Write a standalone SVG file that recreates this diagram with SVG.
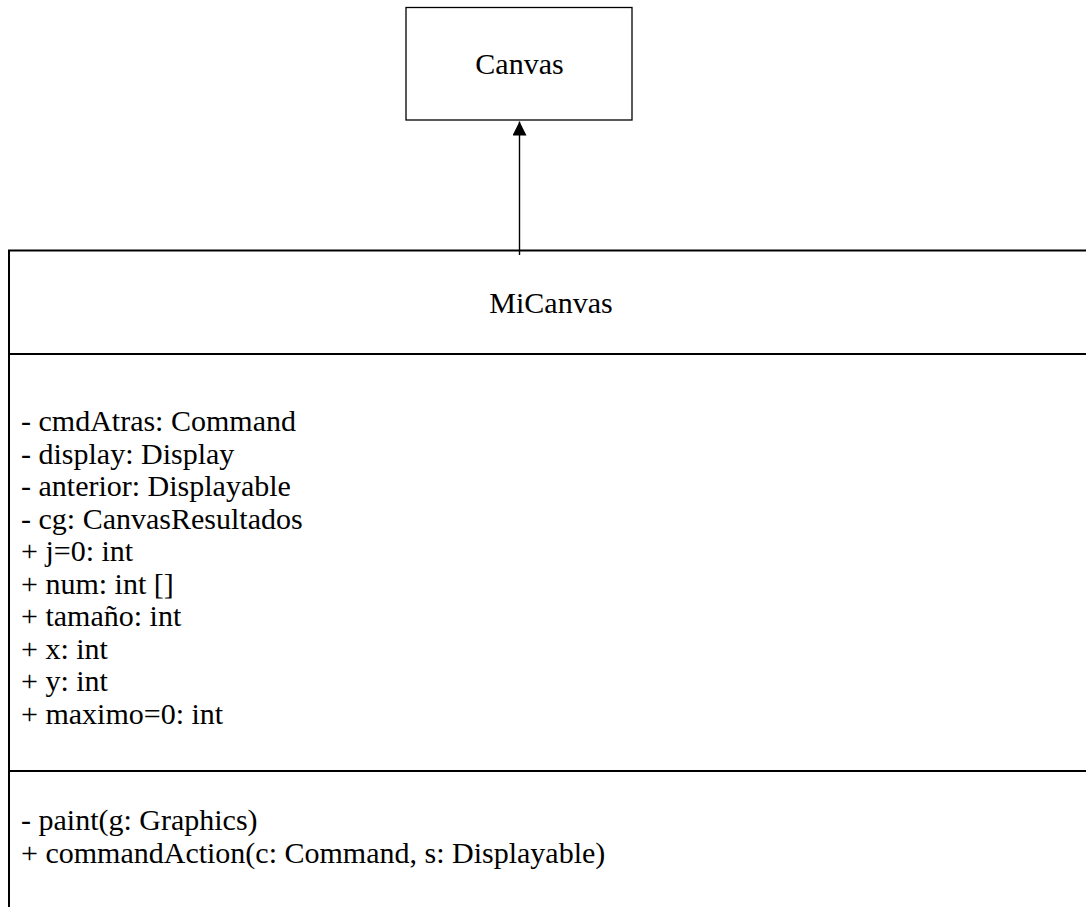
<svg xmlns="http://www.w3.org/2000/svg" width="1086" height="907" viewBox="0 0 1086 907">
  <defs>
    <style>
      .box { fill: #ffffff; stroke: #000000; stroke-width: 1.3; }
      .frame { fill: none; stroke: #000000; stroke-width: 2; }
      .edge { fill: none; stroke: #000000; stroke-width: 1.4; }
      .lbl { font-family: "Liberation Serif", "Times New Roman", serif; font-size: 30px; fill: #000000; }
      .mid { text-anchor: middle; }
    </style>
    <marker id="inherit" markerWidth="14" markerHeight="14" refX="14" refY="7" orient="auto" markerUnits="userSpaceOnUse">
      <path d="M0,0 L14,7 L0,14 Z" fill="#000000"/>
    </marker>
  </defs>
  <rect width="1086" height="907" fill="#ffffff"/>

  <!-- superclass -->
  <g id="canvas">
    <rect class="box" x="406" y="7.5" width="226" height="112.5"/>
    <text class="lbl mid" x="519.5" y="74">Canvas</text>
  </g>

  <!-- subclass, runs past the right and bottom edges -->
  <g id="micanvas">
    <path class="frame" d="M9,907 V250.5 H1090 M9,354 H1090 M9,771 H1090"/>
    <text class="lbl mid" x="551" y="313">MiCanvas</text>
    <g class="lbl">
      <text x="21" y="431">- cmdAtras: Command</text>
      <text x="21" y="463.5">- display: Display</text>
      <text x="21" y="496">- anterior: Displayable</text>
      <text x="21" y="528.5">- cg: CanvasResultados</text>
      <text x="21" y="561">+ j=0: int</text>
      <text x="21" y="593.5">+ num: int []</text>
      <text x="21" y="626">+ tamaño: int</text>
      <text x="21" y="658.5">+ x: int</text>
      <text x="21" y="691">+ y: int</text>
      <text x="21" y="723.5">+ maximo=0: int</text>
      <text x="21" y="830">- paint(g: Graphics)</text>
      <text x="21" y="863">+ commandAction(c: Command, s: Displayable)</text>
    </g>
  </g>

  <!-- generalization -->
  <g id="connectors">
    <line class="edge" x1="519.5" y1="255" x2="519.5" y2="121.5" marker-end="url(#inherit)"/>
  </g>
</svg>
